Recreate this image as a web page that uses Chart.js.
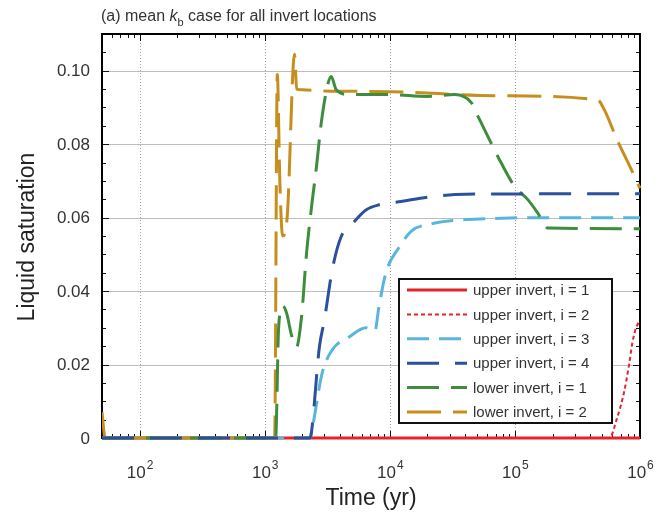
<!DOCTYPE html>
<html><head><meta charset="utf-8">
<script src="https://cdn.jsdelivr.net/npm/chart.js@4/dist/chart.umd.min.js"></script>
<style>html,body{margin:0;padding:0;background:#fff;overflow:hidden}</style>
</head><body>
<canvas id="c" width="656" height="514"></canvas>
<script>
// ---- data (time in years, liquid saturation) ----
const seriesNames = ["upper invert, i = 1","upper invert, i = 2","upper invert, i = 3","upper invert, i = 4","lower invert, i = 1","lower invert, i = 2"];
const upper1Time = [50, 1000000];
const upper1Sat  = [0, 0];
const upper2Time = [50, 570000, 650000, 746000, 818000, 870000, 930000, 1000000];
const upper2Sat  = [0, 0, 0.005, 0.0125, 0.020, 0.026, 0.030, 0.032];
const upper3Time = [50, 2300, 2360, 2880, 3465, 4730, 6450, 7600, 8180, 9300, 11800, 14950, 21500, 29400, 60000, 150000, 1000000];
const upper3Sat  = [0, 0, 0.0014, 0.0177, 0.024, 0.0275, 0.0300, 0.0292, 0.0357, 0.045, 0.0518, 0.0564, 0.0583, 0.0591, 0.0597, 0.0600, 0.0600];
const upper4Time = [50, 2300, 2360, 2735, 2995, 3465, 4080, 5180, 6450, 8180, 11800, 21500, 40000, 1000000];
const upper4Sat  = [0, 0, 0.0014, 0.0248, 0.032, 0.0458, 0.0548, 0.0589, 0.0621, 0.0635, 0.0643, 0.0657, 0.0664, 0.0665];
const lower1Time = [50, 1200, 1222, 1291, 1390, 1496, 1637, 1795, 1968, 2155, 2360, 2590, 2830, 3160, 3400, 3730, 4730, 10000, 20000, 33000, 44800, 50800, 61000, 77400, 100000, 126800, 152000, 183000, 1000000];
const lower1Sat  = [0, 0, 0, 0.030, 0.036, 0.034, 0.028, 0.0248, 0.033, 0.050, 0.0626, 0.0738, 0.0858, 0.0956, 0.0984, 0.0948, 0.0935, 0.0935, 0.0930, 0.0935, 0.0913, 0.0875, 0.082, 0.075, 0.0684, 0.0649, 0.0613, 0.0572, 0.0570];
const lower2Time = [50, 53, 1200, 1260, 1320, 1390, 1460, 1524, 1730, 1800, 2000, 3000, 10000, 73000, 456000, 518000, 656000, 833000, 1000000];
const lower2Sat  = [0.007, 0, 0, 0.099, 0.070, 0.055, 0.056, 0.062, 0.1045, 0.095, 0.0948, 0.0945, 0.0943, 0.0932, 0.0921, 0.0894, 0.0812, 0.0738, 0.068];

const yTickValues = [0, 0.02, 0.04, 0.06, 0.08, 0.10];
const yTickLabels = ["0", "0.02", "0.04", "0.06", "0.08", "0.10"];
const xTickExps = [2, 3, 4, 5, 6];

// ---- styles ----
const colors = ["#e5232b", "#e5232b", "#58b6de", "#2c509c", "#3e8d3d", "#c68e1d"];
const dashes = [[], [4, 3], [22, 10], [32, 16], [32, 12], [34, 12]];
const widths = [3, 2, 3, 3, 3, 3];
const orders = [6, 5, 4, 1, 2, 3];

const allTime = [upper1Time, upper2Time, upper3Time, upper4Time, lower1Time, lower2Time];
const allSat = [upper1Sat, upper2Sat, upper3Sat, upper4Sat, lower1Sat, lower2Sat];

const datasets = seriesNames.map((n, i) => ({
  label: n,
  data: allTime[i].map((t, j) => ({x: t, y: allSat[i][j]})),
  borderColor: colors[i],
  borderDash: dashes[i],
  borderWidth: widths[i],
  order: orders[i],
  fill: false,
  pointRadius: 0,
  cubicInterpolationMode: 'monotone',
  clip: {left: 0, top: 0, right: 2, bottom: 3}
}));

const FONT = 'Arial, "Liberation Sans", sans-serif';

const decor = {
  id: 'decor',
  beforeDatasetsDraw(chart) {
    const {ctx, chartArea: a, scales: {x, y}} = chart;
    ctx.save();
    // grid
    ctx.lineWidth = 1;
    ctx.strokeStyle = '#bdbdbd';
    yTickValues.forEach(v => {
      if (v <= 0) return;
      const py = Math.round(y.getPixelForValue(v)) + 0.5;
      ctx.beginPath(); ctx.moveTo(a.left, py); ctx.lineTo(a.right, py); ctx.stroke();
    });
    ctx.strokeStyle = '#9a9a9a';
    ctx.setLineDash([1, 2]);
    xTickExps.forEach(e => {
      const v = Math.pow(10, e);
      if (v >= 1000000) return;
      const px = Math.round(x.getPixelForValue(v)) + 0.5;
      ctx.beginPath(); ctx.moveTo(px, a.top); ctx.lineTo(px, a.bottom); ctx.stroke();
    });
    ctx.setLineDash([]);
    // ticks
    ctx.strokeStyle = '#111';
    ctx.lineWidth = 1;
    for (let k = 0; k <= 22; k++) {
      const v = k * 0.005;
      const py = Math.round(y.getPixelForValue(v)) + 0.5;
      const len = (k % 4 === 0) ? 7 : 4;
      ctx.beginPath();
      ctx.moveTo(a.left, py); ctx.lineTo(a.left + len, py);
      ctx.moveTo(a.right, py); ctx.lineTo(a.right - len, py);
      ctx.stroke();
    }
    for (let e = 1; e <= 6; e++) {
      for (let m = 1; m <= 9; m++) {
        const v = m * Math.pow(10, e);
        if (v < 50 || v > 1000000) continue;
        const px = Math.round(x.getPixelForValue(v)) + 0.5;
        const len = m === 1 ? 7 : 4;
        ctx.beginPath();
        ctx.moveTo(px, a.top); ctx.lineTo(px, a.top + len);
        ctx.moveTo(px, a.bottom); ctx.lineTo(px, a.bottom - len);
        ctx.stroke();
      }
    }
    // frame (under the data lines)
    ctx.lineWidth = 2;
    ctx.strokeStyle = '#000';
    ctx.strokeRect(a.left, a.top, a.right - a.left, a.bottom - a.top);
    ctx.restore();
  },
  afterDraw(chart) {
    const {ctx, chartArea: a, scales: {x, y}} = chart;
    ctx.save();
    // y tick labels
    ctx.fillStyle = '#333';
    ctx.font = '17px ' + FONT;
    ctx.textAlign = 'right';
    ctx.textBaseline = 'middle';
    yTickValues.forEach((v, i) => {
      ctx.fillText(yTickLabels[i], a.left - 12, y.getPixelForValue(v) + 1);
    });
    // x tick labels
    ctx.textBaseline = 'alphabetic';
    ctx.textAlign = 'left';
    xTickExps.forEach(e => {
      const px = x.getPixelForValue(Math.pow(10, e));
      ctx.font = '17px ' + FONT;
      const w1 = ctx.measureText('10').width;
      ctx.font = '12px ' + FONT;
      const w2 = ctx.measureText(String(e)).width;
      const x0 = px - (w1 + w2) / 2;
      ctx.font = '17px ' + FONT;
      ctx.fillText('10', x0, a.bottom + 40);
      ctx.font = '12px ' + FONT;
      ctx.fillText(String(e), x0 + w1 + 1, a.bottom + 31);
    });
    // axis titles
    ctx.fillStyle = '#222';
    ctx.font = '23px ' + FONT;
    ctx.textAlign = 'center';
    ctx.fillText('Time (yr)', 371, 505);
    ctx.save();
    ctx.translate(34, 237);
    ctx.rotate(-Math.PI / 2);
    ctx.fillText('Liquid saturation', 0, 0);
    ctx.restore();

    // title
    ctx.fillStyle = '#333';
    ctx.textAlign = 'left';
    let tx = 101;
    const ty = 21;
    ctx.font = '16px ' + FONT;
    ctx.fillText('(a) mean ', tx, ty); tx += ctx.measureText('(a) mean ').width;
    ctx.font = 'italic 16px ' + FONT;
    ctx.fillText('k', tx, ty); tx += ctx.measureText('k').width;
    ctx.font = '11px ' + FONT;
    ctx.fillText('b', tx, ty + 5); tx += ctx.measureText('b').width;
    ctx.font = '16px ' + FONT;
    ctx.fillText(' case for all invert locations', tx, ty);

    // legend
    const lx = 399, ly = 279, lw = 213, lh = 144;
    ctx.fillStyle = '#fff';
    ctx.fillRect(lx, ly, lw, lh);
    ctx.lineWidth = 2;
    ctx.strokeStyle = '#111';
    ctx.strokeRect(lx, ly, lw, lh);
    ctx.font = '15px ' + FONT;
    ctx.textBaseline = 'middle';
    seriesNames.forEach((n, i) => {
      const ry = 290 + i * 24.4;
      ctx.strokeStyle = colors[i];
      ctx.lineWidth = widths[i];
      ctx.setLineDash(dashes[i]);
      ctx.beginPath(); ctx.moveTo(407, ry); ctx.lineTo(467, ry); ctx.stroke();
      ctx.setLineDash([]);
      ctx.fillStyle = '#333';
      ctx.fillText(n, 473, ry + 1);
    });
    ctx.restore();
  }
};

new Chart(document.getElementById('c'), {
  type: 'line',
  data: {datasets},
  options: {
    responsive: false,
    animation: false,
    devicePixelRatio: 1,
    layout: {padding: {left: 102, right: 16, top: 34, bottom: 76}},
    plugins: {legend: {display: false}, tooltip: {enabled: false}, title: {display: false}},
    scales: {
      x: {type: 'logarithmic', min: 50, max: 1000000, display: false},
      y: {type: 'linear', min: 0, max: 0.11, display: false}
    },
    elements: {point: {radius: 0}, line: {borderCapStyle: 'butt', borderJoinStyle: 'round'}}
  },
  plugins: [decor]
});
</script>
</body></html>
